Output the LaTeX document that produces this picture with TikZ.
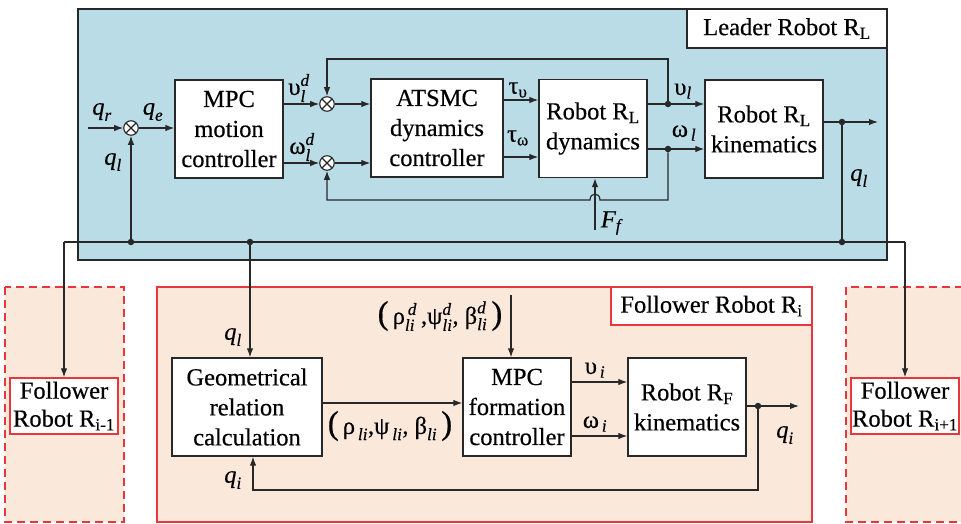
\documentclass[tikz,border=0pt]{standalone}
\usepackage{fontspec}
\setmainfont{Liberation Serif}[FakeBold=0.4]
\usepackage{amsmath}
\usetikzlibrary{arrows.meta,calc}
\definecolor{leaderfill}{RGB}{185,220,230}
\definecolor{follfill}{RGB}{250,232,219}
\definecolor{redb}{RGB}{232,55,60}
\definecolor{edge}{RGB}{40,40,40}
\tikzset{
  blk/.style={draw=edge, line width=1.3pt, fill=white, align=center, inner sep=0pt, minimum height=98pt},
  sumn/.style={circle, draw=edge, fill=white, line width=1.1pt, minimum size=14.5pt, inner sep=0pt,
    path picture={\draw[line width=1.1pt] (path picture bounding box.north west) -- (path picture bounding box.south east)
      (path picture bounding box.north east) -- (path picture bounding box.south west);}},
  arr/.style={draw=edge, line width=1.2pt, -{Latex[length=9pt,width=6.5pt]}},
  ln/.style={draw=edge, line width=1.2pt},
  dotn/.style={circle, fill=edge, inner sep=0pt, minimum size=6.5pt},
  lbl/.style={inner sep=0pt},
  redbox/.style={draw=redb, line width=1.3pt, fill=white, align=center, inner sep=0pt},
  dashbox/.style={draw=redb, line width=1.3pt, dash pattern=on 8pt off 5pt, fill=follfill},
}
\begin{document}
\begin{tikzpicture}[x=1pt,y=-1pt,font=\fontsize{24.5}{30}\selectfont]
\useasboundingbox (0,0) rectangle (961,524);
\clip (0,0) rectangle (961,524);
% ---------- backgrounds ----------
\draw[draw=edge, line width=1.3pt, fill=leaderfill] (78,9) rectangle (887,260);
\node[draw=edge, line width=1.3pt, fill=white, inner sep=0pt, minimum width=200pt, minimum height=39pt] (ltitle) at (787,28.5) {Leader Robot R\textsubscript{L}};
\draw[dashbox] (5,287) rectangle (124,522);
\draw[draw=redb, line width=1.3pt, fill=follfill] (157,287) rectangle (812,522);
\draw[dashbox] (846,287) rectangle (975,522);
\node[redbox, minimum width=201pt, minimum height=38pt] (ftitle) at (711.5,306) {Follower Robot R\textsubscript{i}};
\node[redbox, minimum width=108pt, minimum height=56pt, font=\fontsize{24.5}{28}\selectfont] (fm1) at (64,406) {Follower\\Robot R\textsubscript{i-1}};
\node[redbox, minimum width=108pt, minimum height=56pt, font=\fontsize{24.5}{28}\selectfont] (fp1) at (905,406) {Follower\\Robot R\textsubscript{i+1}};
% ---------- leader blocks ----------
\node[blk, minimum width=108pt] (mpc) at (229,129) {MPC\\motion\\controller};
\node[blk, minimum width=132pt] (atsmc) at (437,128) {ATSMC\\dynamics\\controller};
\node[blk, minimum width=108pt] (dyn) at (593,128.5) {Robot R\textsubscript{L}\\dynamics};
\node[blk, minimum width=118pt] (kin) at (764,129) {Robot R\textsubscript{L}\\kinematics};
\node[sumn] (s0) at (131,128) {};
\node[sumn] (s1) at (327,104) {};
\node[sumn] (s2) at (327,163) {};
\coordinate (qr) at (88,128);
\coordinate (tv) at (0,100);
\coordinate (tw) at (0,157);
\node[dotn] (dv) at (668,104) {};
\node[dotn] (dw) at (668,149) {};
\coordinate (fbt) at (668,59);
\coordinate (fbb) at (668,200);
\coordinate (ff) at (595,230);
\node[dotn] (dq) at (842,122) {};
\coordinate (qlout) at (878,122);
\node[dotn] (dqb) at (842,242) {};
\coordinate (busl) at (64,242);
\coordinate (busr) at (905,242);
\node[dotn] (b1) at (131,242) {};
\node[dotn] (b2) at (250,242) {};
% leader connectors
\draw[arr] (qr) -- (s0);
\draw[arr] (s0) -- (mpc.west |- s0);
\draw[arr] (mpc.east |- s1) -- (s1);
\draw[arr] (mpc.east |- s2) -- (s2);
\draw[arr] (s1) -- (atsmc.west |- s1);
\draw[arr] (s2) -- (atsmc.west |- s2);
\draw[arr] (atsmc.east |- tv) -- (dyn.west |- tv);
\draw[arr] (atsmc.east |- tw) -- (dyn.west |- tw);
\draw[ln] (dyn.east |- dv) -- (dv);
\draw[ln] (dyn.east |- dw) -- (dw);
\draw[arr] (dv) -- (kin.west |- dv);
\draw[arr] (dw) -- (kin.west |- dw);
\draw[arr] (dv) -- (fbt) -- (fbt -| s1) -- (s1);
\draw[arr] (dw) -- (fbb) -- ($(ff |- fbb)+(5,0)$) .. controls ($(ff |- fbb)+(5,-8)$) and ($(ff |- fbb)+(-5,-8)$) .. ($(ff |- fbb)+(-5,0)$) -- (fbb -| s2) -- (s2);
\draw[arr] (ff) -- (ff |- dyn.south);
\draw[ln] (kin.east |- dq) -- (dq);
\draw[arr] (dq) -- (qlout);
\draw[ln] (dq) -- (dqb);
\draw[ln] (busl) -- (busr);
\draw[arr] (busl) -- (busl |- fm1.north);
\draw[arr] (busr) -- (busr |- fp1.north);
\draw[arr] (b1) -- (s0);
% leader labels
\node[lbl] at (102,112) {$\textit{q}_{\textit{r}}$};
\node[lbl] at (153,112) {$\textit{q}_{\textit{e}}$};
\node[lbl] at (113,162) {$\textit{q}_{\textit{l}}$};
\node[lbl] at (299,88) {$\text{υ}_{\textit{l}}^{\textit{d}}$};
\node[lbl] at (302,147) {$\text{ω}_{\textit{l}}^{\textit{d}}$};
\node[lbl] at (518,90) {$\text{τ}_{\text{υ}}$};
\node[lbl] at (518,138) {$\text{τ}_{\text{ω}}$};
\node[lbl] at (683,91) {$\text{υ}_{\textit{l}}$};
\node[lbl] at (684,133) {$\text{ω}_{\,\textit{l}}$};
\node[lbl] at (611,223) {$\textit{F}_{\textit{f}}$};
\node[lbl] at (859,178) {$\textit{q}_{\textit{l}}$};
% ---------- follower blocks ----------
\node[blk, minimum width=150pt] (geo) at (247,407) {Geometrical\\relation\\calculation};
\node[blk, minimum width=108pt] (mpcf) at (517,407) {MPC\\formation\\controller};
\node[blk, minimum width=118pt] (kinf) at (687,407) {Robot R\textsubscript{F}\\kinematics};
\coordinate (gy) at (0,403);
\coordinate (vy) at (0,382);
\coordinate (wy) at (0,436);
\node[dotn] (dqi) at (758,406) {};
\coordinate (qiout) at (799,406);
\coordinate (fbq) at (253,490);
\coordinate (des) at (511,295);
\draw[arr] (b2) -- (geo.north -| b2);
\draw[arr] (geo.east |- gy) -- (mpcf.west |- gy);
\draw[arr] (mpcf.east |- vy) -- (kinf.west |- vy);
\draw[arr] (mpcf.east |- wy) -- (kinf.west |- wy);
\draw[ln] (kinf.east |- dqi) -- (dqi);
\draw[arr] (dqi) -- (qiout);
\draw[arr] (dqi) -- (dqi |- fbq) -- (fbq) -- (fbq |- geo.south);
\draw[arr] (des) -- (des |- mpcf.north);
% follower labels
\node[lbl] at (233,337) {$\textit{q}_{\textit{l}}$};
\node[lbl] at (233,480) {$\textit{q}_{\textit{i}}$};
\node[lbl] at (785,435) {$\textit{q}_{\textit{i}}$};
\node[lbl] at (595,370) {$\text{υ}_{\,\textit{i}}$};
\node[lbl] at (595,424) {$\text{ω}_{\,\textit{i}}$};
\node[lbl] at (390,426) {{\fontsize{33}{33}\selectfont(}\,$\text{ρ}_{\,\textit{li}}$,$\text{ψ}_{\,\textit{li}}$, $\text{β}_{\textit{li}}$\,{\fontsize{33}{33}\selectfont)}};
\node[lbl] at (440,316) {{\fontsize{33}{33}\selectfont(}\,$\text{ρ}_{\textit{li}}^{\,\textit{d}}$\,,$\text{ψ}_{\textit{li}}^{\textit{d}}$, $\text{β}_{\textit{li}}^{\textit{d}}$\,{\fontsize{33}{33}\selectfont)}};
\end{tikzpicture}
\end{document}
